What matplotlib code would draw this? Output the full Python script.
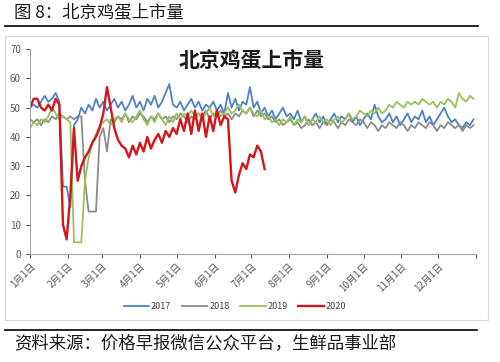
import numpy as np
import matplotlib
matplotlib.use("Agg")
import matplotlib.pyplot as plt
from matplotlib.lines import Line2D
from matplotlib.patches import Rectangle

plt.rcParams['font.family'] = ['Noto Sans CJK SC', 'DejaVu Sans']

# values sampled every 3 days from 1 Jan
step = 3
v2017 = [50, 51, 50, 52, 54, 52, 53, 55, 52, 23, 23, 16, 44, 46, 50, 48, 51, 49, 53, 50,
         52, 49, 51, 53, 50, 52, 49, 51, 54, 50, 52, 49, 53, 51, 54, 50, 52, 55, 58, 51,
         50, 52, 49, 51, 53, 50, 52, 49, 51, 50, 52, 49, 51, 48, 55, 50, 53, 49, 52, 51,
         57, 50, 52, 48, 50, 47, 49, 46, 48, 50, 47, 48, 46, 49, 45, 47, 44, 46, 48, 45,
         47, 44, 46, 48, 45, 47, 46, 48, 45, 47, 44, 46, 48, 46, 51, 47, 45, 46, 48, 45,
         47, 44, 46, 48, 45, 47, 46, 49, 45, 47, 44, 46, 48, 50, 47, 45, 46, 44, 43, 45,
         44, 46]
v2018 = [46, 45, 46, 44, 46, 45, 47, 46, 48, 47, 46, 47, 46, 47, 47, 25, 14.5, 14.5, 14.5, 40,
         43, 35, 46, 45, 47, 46, 48, 45, 47, 46, 48, 47, 45, 47, 46, 48, 46, 47, 45, 47,
         46, 48, 47, 45, 47, 46, 48, 47, 49, 46, 48, 47, 49, 47, 48, 46, 48, 47, 49, 48,
         50, 47, 49, 47, 48, 46, 47, 45, 46, 44, 45, 46, 44, 45, 43, 44, 46, 44, 45, 43,
         45, 44, 46, 45, 43, 45, 44, 46, 45, 44, 46, 45, 43, 45, 44, 42, 44, 43, 45, 44,
         43, 45, 44, 42, 44, 43, 45, 44, 43, 45, 44, 42, 44, 43, 45, 44, 43, 44, 42, 44,
         43, 44]
v2019 = [43, 45, 44, 46, 45, 47, 50, 48, 46, 47, 46, 45, 4, 4, 4, 25, 33, 38, 41, 44,
         45, 46, 44, 46, 47, 45, 48, 46, 45, 47, 49, 46, 44, 47, 45, 48, 46, 44, 47, 45,
         48, 46, 48, 47, 49, 47, 48, 46, 48, 50, 47, 49, 47, 48, 50, 48, 49, 51, 49, 48,
         50, 48, 47, 49, 46, 47, 45, 46, 44, 46, 45, 47, 44, 46, 45, 47, 44, 46, 45, 47,
         45, 46, 44, 46, 47, 45, 46, 48, 46, 47, 49, 48, 47, 49, 48, 50, 48, 49, 51, 50,
         52, 51, 50, 52, 51, 52, 51, 53, 52, 51, 52, 50, 52, 51, 53, 52, 50, 55, 53, 52,
         54, 53]
v2020 = [50, 53, 53, 50, 49, 51, 49, 53, 51, 10, 5, 20, 43, 25, 30, 33, 35, 38, 40, 43,
         48, 57, 50, 43, 39, 37, 36, 33, 37, 34, 38, 35, 40, 36, 39, 41, 38, 42, 40, 43,
         41, 46, 42, 48, 41, 49, 42, 48, 40, 47, 42, 49, 44, 47, 46, 25, 21, 27, 31, 29,
         34, 33, 37, 35, 29]

years = ['2017', '2018', '2019', '2020']
colors = ['#4f81c7', '#8c8c8c', '#9bc25a', '#d2161e']
widths = [1.3, 1.3, 1.3, 1.7]

month_days = [0, 31, 59, 90, 120, 151, 181, 212, 243, 273, 304, 334, 365]
month_labels = ['%d月1日' % m for m in range(1, 13)] + ['']

fig = plt.figure(figsize=(5, 3.62), dpi=100)
ax = fig.add_axes([0.06, 0.2983, 0.892, 0.5663])

for vals, name, c, w in zip([v2017, v2018, v2019, v2020], years, colors, widths):
    days = np.arange(len(vals)) * step
    ax.plot(days, vals, color=c, lw=w, label=name)

ax.set_xlim(0, 365)
ax.set_ylim(0, 70)
ax.set_yticks(range(0, 71, 10))
ax.set_xticks(month_days)
ax.set_xticklabels(month_labels, rotation=45, ha='right', rotation_mode='anchor')
ax.tick_params(axis='both', labelsize=7, colors='#595959', length=3, width=0.8)
ax.tick_params(axis='x', pad=2)
for s in ['top', 'right']:
    ax.spines[s].set_visible(False)
for s in ['left', 'bottom']:
    ax.spines[s].set_color('#a6a6a6')
    ax.spines[s].set_linewidth(0.8)

fig.text(0.504, 0.834, '北京鸡蛋上市量', ha='center', va='center',
         fontsize=15, fontweight='bold', color='#1a1a1a')

handles, labels = ax.get_legend_handles_labels()
fig.legend(handles, labels, loc='center', bbox_to_anchor=(0.47, 0.152), ncol=4,
           frameon=False, fontsize=6.5, handlelength=2.8, handletextpad=0.2,
           columnspacing=1.2, labelcolor='#404040')

# frame, rules, header and source
fig.patches.append(Rectangle((0.01, 0.116), 0.966, 0.7845, transform=fig.transFigure,
                             fill=False, edgecolor='#d9d9d9', lw=0.8))
fig.lines.append(Line2D([0.01, 0.956], [0.928, 0.928], transform=fig.transFigure,
                        color='black', lw=1.2))
fig.lines.append(Line2D([0.01, 0.954], [0.0884, 0.0884], transform=fig.transFigure,
                        color='black', lw=1.2))
fig.text(0.028, 0.967, '图 8：北京鸡蛋上市量', ha='left', va='center', fontsize=12.5, color='#1a1a1a')
fig.text(0.028, 0.0525, '资料来源：价格早报微信公众平台，生鲜品事业部', ha='left', va='center',
         fontsize=12.5, color='#1a1a1a')

fig.savefig('out.png', dpi=100)
